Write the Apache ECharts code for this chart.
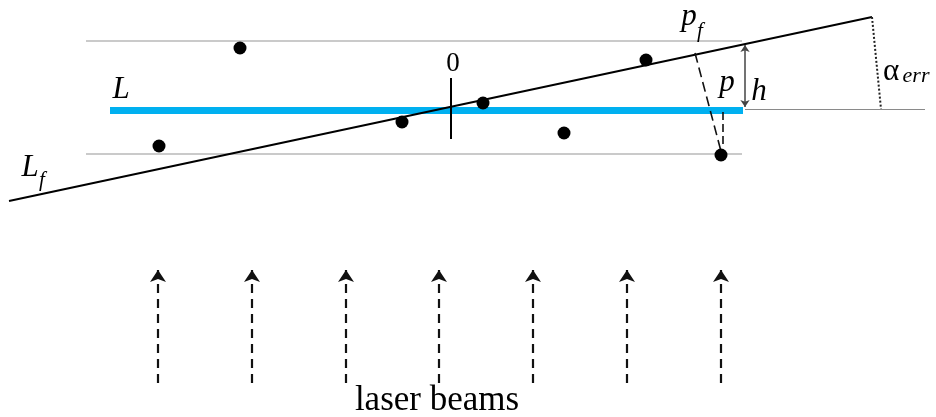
<!DOCTYPE html>
<html>
<head>
<meta charset="utf-8">
<script src="https://cdn.jsdelivr.net/npm/echarts@6/dist/echarts.min.js"></script>
<style>
html,body{margin:0;padding:0;background:#fff;}
#chart{width:936px;height:417px;}
</style>
</head>
<body>
<div id="chart"></div>
<script>
// Diagram coordinate values
const pointsX = [159, 240, 402, 483, 564, 646, 721];
const pointsY = [146, 48, 122, 103, 133, 60, 155];
const beamX = [158, 252, 346, 439, 533, 627, 721];
const beamY = [383, 270];            // start (bottom), tip (top)
const bandTop = [[86, 41], [742, 41]];
const bandBottom = [[86, 154], [742, 154]];
const refExt = [[745, 109], [925, 109]];
const lineL = [[110, 110], [743, 110]];
const lineLf = [[9, 201], [872, 17]];
const zeroTick = [[451, 78], [451, 139]];
const perpDash = [[695, 53], [722, 155]];
const shortDash = [[723, 112], [723, 148]];
const hArrow = [[745, 45], [745, 107]];
const angleDots = [[872, 17], [881, 109]];

const serif = "'Liberation Serif', 'Times New Roman', serif";
// text annotations: [x, y, text, fontSize, italic]
const labels = [
  [453, 64, '0', 27, false],
  [121, 90, 'L', 31, true],
  [30, 168, 'L', 31, true],
  [42, 180, 'f', 21, true],
  [689, 17, 'p', 31, true],
  [700, 31, 'f', 21, true],
  [727, 83, 'p', 31, true],
  [759, 92, 'h', 31, true],
  [891, 72, 'α', 31, false],
  [916, 76, 'err', 22, true],
  [437, 401, 'laser beams', 35, false]
];

function seg(coords, style) {
  style.opacity = 1;
  return { coords: coords, lineStyle: style };
}

const chart = echarts.init(document.getElementById('chart'), null, {renderer: 'canvas'});
const option = {
  animation: false,
  backgroundColor: '#ffffff',
  grid: { left: 0, right: 0, top: 0, bottom: 0, containLabel: false },
  xAxis: { type: 'value', min: 0, max: 936, show: false },
  yAxis: { type: 'value', min: 0, max: 417, inverse: true, show: false },
  series: [
    {
      type: 'lines', coordinateSystem: 'cartesian2d', silent: true, symbol: 'none', z: 1,
      data: [
        seg(bandTop, { color: '#b8b8b8', width: 1.5, type: 'solid' }),
        seg(bandBottom, { color: '#b8b8b8', width: 1.5, type: 'solid' }),
        seg(refExt, { color: '#8a8a8a', width: 1.2, type: 'solid' })
      ]
    },
    {
      type: 'lines', coordinateSystem: 'cartesian2d', silent: true, symbol: 'none', z: 2,
      data: [ seg(lineL, { color: '#00b0f0', width: 7, type: 'solid', cap: 'butt' }) ]
    },
    {
      type: 'lines', coordinateSystem: 'cartesian2d', silent: true, symbol: 'none', z: 3,
      data: [
        seg(lineLf, { color: '#000', width: 2, type: 'solid' }),
        seg(zeroTick, { color: '#000', width: 2, type: 'solid' }),
        seg(perpDash, { color: '#111', width: 1.6, type: [10, 5] }),
        seg(shortDash, { color: '#111', width: 1.6, type: [8, 4] }),
        seg(angleDots, { color: '#222', width: 2, type: [2, 2] })
      ]
    },
    {
      type: 'lines', coordinateSystem: 'cartesian2d', silent: true, z: 3,
      symbol: ['arrow', 'arrow'], symbolSize: 7,
      data: [ seg(hArrow, { color: '#444', width: 1.5, type: 'solid' }) ]
    },
    {
      type: 'lines', coordinateSystem: 'cartesian2d', silent: true, z: 3,
      symbol: ['none', 'arrow'], symbolSize: 12,
      lineStyle: { color: '#111', width: 2.2, type: [9, 6], opacity: 1 },
      data: beamX.map(function (x) { return { coords: [[x, beamY[0]], [x, beamY[1]]] }; })
    },
    {
      type: 'scatter', silent: true, z: 5, symbol: 'circle', symbolSize: 13,
      itemStyle: { color: '#000', opacity: 1 },
      data: pointsX.map(function (x, i) { return [x, pointsY[i]]; })
    },
    {
      type: 'scatter', silent: true, z: 6, symbolSize: 0,
      itemStyle: { color: '#000', opacity: 1 },
      data: labels.map(function (l) {
        return {
          value: [l[0], l[1]],
          label: {
            show: true, position: 'inside', formatter: l[2],
            fontFamily: serif, fontSize: l[3], fontStyle: l[4] ? 'italic' : 'normal',
            color: '#000', textBorderWidth: 0, textBorderColor: 'transparent',
            opacity: 1, align: 'center', verticalAlign: 'middle'
          }
        };
      })
    }
  ]
};
chart.setOption(option);
</script>
</body>
</html>
